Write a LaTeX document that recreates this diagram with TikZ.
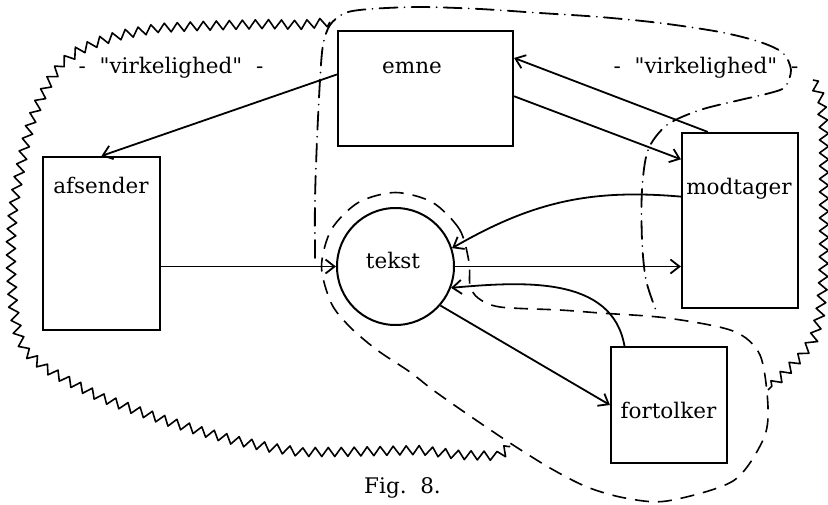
\documentclass[tikz,border=0pt]{standalone}
\usepackage{fontspec}
\setmainfont{DejaVu Serif}
\usetikzlibrary{arrows.meta}
\usetikzlibrary{decorations.pathmorphing}

\tikzset{
  box/.style = {draw, line width = 2.2pt, inner sep = 0pt},
  word/.style = {font = \fontsize{21.5}{26}\selectfont, anchor = base, inner sep = 0pt},
  arr/.style = {line width = 1.8pt, -{Straight Barb[length = 9pt, width = 14pt]}},
  real/.style = {line width = 1.6pt, line join = round, decorate,
    decoration = {zigzag, segment length = 13pt, amplitude = 4.5pt}},
  dashline/.style = {line width = 1.6pt, dash pattern = on 14pt off 9pt},
  dotline/.style = {line width = 1.8pt, line cap = round,
    dash pattern = on 18pt off 7pt on 0.1pt off 7pt}
}
\newcommand{\qq}[1]{\textquotedbl#1\textquotedbl}

\begin{document}
\begin{tikzpicture}[x = 1pt, y = -1pt]
  \useasboundingbox (0, 0) rectangle (828, 504);

  \node[box, minimum width = 175pt, minimum height = 115pt] (emne) at (425.5, 88.5) {};
  \node[box, minimum width = 117pt, minimum height = 173pt] (afsender) at (101.5, 243.5) {};
  \node[box, minimum width = 116pt, minimum height = 175pt] (modtager) at (740, 220.5) {};
  \node[box, minimum width = 116pt, minimum height = 116pt] (fortolker) at (669, 405) {};
  \node[box, circle, line width = 2pt, minimum size = 117pt] (tekst) at (395.5, 266.5) {};

  \node[word] (emnetxt) at (412, 73) {emne};
  \node[word] (afsendertxt) at (101, 193) {afsender};
  \node[word] (modtagertxt) at (739, 194) {modtager};
  \node[word] (teksttxt) at (393, 268) {tekst};
  \node[word] (fortolkertxt) at (668.5, 418) {fortolker};
  \node[word] (virkv) at (171, 73) {- \ \qq{virkelighed} \ -};
  \node[word] (virkh) at (706, 73) {- \ \qq{virkelighed} \ -};
  \node[word] (fig) at (402.5, 493) {Fig.\ \ 8.};

  \draw[arr] (emne.171) -- (afsender.north);
  \draw[arr] (emne.-5) -- (modtager.134);
  \draw[arr] (modtager.110) -- (emne.19);
  \draw[arr] (modtager.158) to[out = 175, in = 30] (tekst.18);
  \draw[arr] (afsender.east |- tekst.west) -- (tekst.west);
  \draw[arr] (tekst.east) -- (tekst.east -| modtager.west);
  \draw[arr] (fortolker.127) to[out = 100, in = 5] (tekst.-21);
  \draw[arr] (tekst.-41) -- (fortolker.west);

  \draw[real] plot coordinates {(330, 22) (300, 25) (267, 24) (230, 25) (200, 26)
    (158, 28) (125, 34) (100, 41) (80, 50) (63, 62) (50, 80) (40, 100) (31, 122)
    (24, 150) (18, 180) (13, 210) (11, 240) (11, 270) (13, 305) (18, 335) (26, 352)
    (45, 368) (70, 382) (100, 397) (135, 410) (167, 421) (200, 431) (233, 440)
    (267, 447) (300, 452) (340, 452) (380, 451) (420, 450) (460, 455) (500, 456)
    (510, 446)};
  \draw[real] plot coordinates {(813, 80) (821, 98) (824, 130) (824, 170) (824, 210)
    (824, 250) (823, 285) (820, 315) (814, 338) (803, 354) (790, 368) (778, 380)
    (768, 390)};

  \draw[dashline] plot[smooth cycle, tension = 0.5] coordinates {(469, 262) (459.6, 229.5)
    (432.5, 202.4) (395.5, 192.5) (358.5, 202.4) (331.4, 229.5) (321.5, 266.5)
    (331.4, 303.5) (350, 327) (377, 350) (410, 372) (433, 390) (470, 416) (510, 443)
    (550, 468) (587, 487) (625, 498) (667, 501) (733, 481) (763, 440) (768, 407)
    (760, 355) (733, 331) (667, 318) (600, 313) (560, 310) (500, 307) (478, 298)
    (470, 285)};

  \draw[dotline] plot[smooth, tension = 0.5] coordinates {(315, 258) (315, 200)
    (317, 140) (320, 80) (323, 45) (330, 25) (345, 13) (370, 9) (420, 7) (480, 9)
    (540, 13) (600, 17) (660, 23) (720, 32) (760, 42) (783, 53) (791, 70) (785, 87)
    (770, 93) (740, 100) (700, 110) (667, 125) (648, 150) (642, 190) (642, 240)
    (646, 280) (657, 313)};
\end{tikzpicture}
\end{document}
